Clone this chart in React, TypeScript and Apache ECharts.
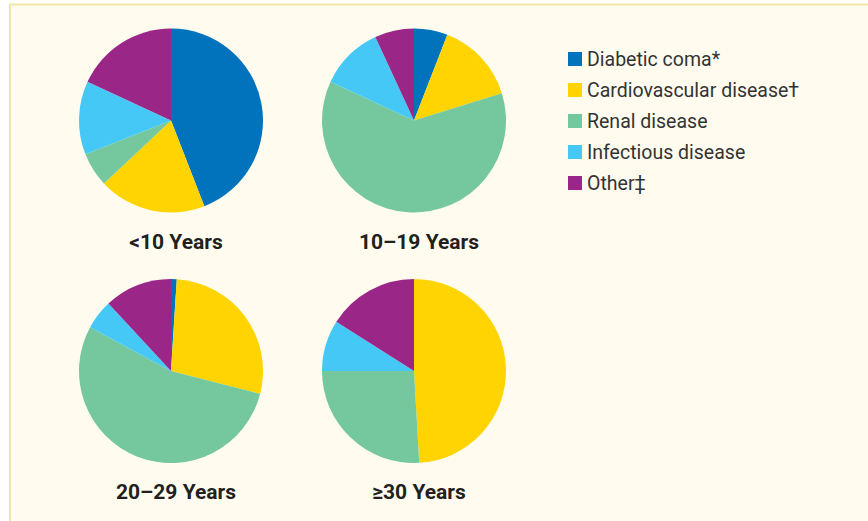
import React, { useEffect, useRef } from "react";
import * as echarts from "echarts";

const causes = ["Diabetic coma*", "Cardiovascular disease†", "Renal disease", "Infectious disease", "Other‡"];
const colors = ["#0073BC", "#FFD400", "#75C79E", "#45C8F5", "#9A2688"];
const groups = ["<10 Years", "10–19 Years", "20–29 Years", "≥30 Years"];
const under10 = [44.1, 18.9, 6.0, 12.9, 18.1];
const age10to19 = [5.9, 14.3, 61.7, 11.2, 6.9];
const age20to29 = [1.0, 28.0, 53.9, 5.2, 11.9];
const age30plus = [0, 49.1, 25.9, 9.0, 16.0];
const seriesValues = [under10, age10to19, age20to29, age30plus];

const centers: [number, number][] = [
  [171, 120.5],
  [414, 120.5],
  [171, 371],
  [414, 371],
];
const titleY = [241, 241, 491, 491];

export default function App() {
  const ref = useRef<HTMLDivElement>(null);
  useEffect(() => {
    if (!ref.current) return;
    const chart = echarts.init(ref.current, null, { renderer: "svg" });
    chart.setOption({
      animation: false,
      backgroundColor: "#ffffff",
      color: colors,
      graphic: [
        {
          type: "rect",
          z: -10,
          silent: true,
          shape: { x: 10, y: 4.5, width: 880, height: 540 },
          style: { fill: "#FFFCEF", stroke: "#F1E6A9", lineWidth: 2 },
        },
      ],
      title: groups.map((g, i) => ({
        text: g,
        left: centers[i][0],
        top: titleY[i] - 15,
        textAlign: "center",
        textStyle: {
          fontFamily: "Roboto",
          fontWeight: "bold",
          fontSize: 21,
          color: "#231F20",
        },
      })),
      legend: {
        orient: "vertical",
        left: 563,
        top: 44,
        icon: "rect",
        itemWidth: 14,
        itemHeight: 14,
        itemGap: 11,
        data: causes,
        selectedMode: false,
        textStyle: {
          fontFamily: "Roboto",
          fontSize: 19.5,
          lineHeight: 20,
          color: "#333333",
          padding: [0, 0, 0, 0],
        },
      },
      series: seriesValues.map((vals, i) => ({
        type: "pie",
        name: groups[i],
        center: centers[i],
        radius: 92,
        startAngle: 90,
        clockwise: true,
        silent: true,
        label: { show: false },
        labelLine: { show: false },
        itemStyle: { borderWidth: 0 },
        data: causes.map((c, j) => ({ name: c, value: vals[j] })),
      })),
    });
    return () => chart.dispose();
  }, []);
  return (
    <div
      ref={ref}
      style={{ position: "fixed", left: 0, top: 0, width: 868, height: 521 }}
    />
  );
}
